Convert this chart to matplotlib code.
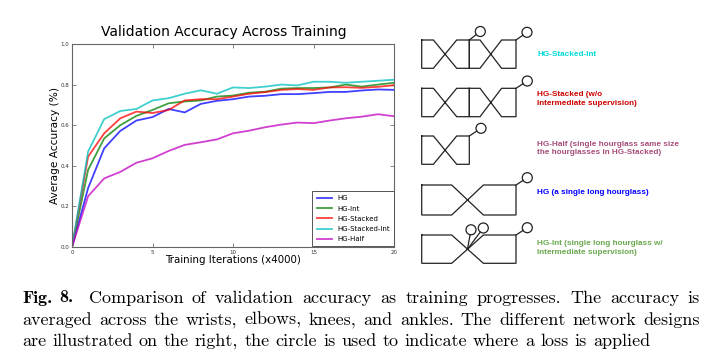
import numpy as np
import matplotlib
matplotlib.use('Agg')
import matplotlib.pyplot as plt
from matplotlib.patches import Circle

# Validation accuracy
iters = list(range(0, 21))
acc_hg = [0.0, 0.29, 0.486, 0.572, 0.623, 0.64, 0.68, 0.663, 0.705, 0.72, 0.728,
          0.741, 0.745, 0.753, 0.753, 0.758, 0.764, 0.764, 0.771, 0.776, 0.774]
acc_hg_int = [0.0, 0.38, 0.535, 0.60, 0.646, 0.675, 0.708, 0.717, 0.722, 0.741, 0.746,
              0.76, 0.765, 0.78, 0.783, 0.783, 0.786, 0.80, 0.79, 0.80, 0.809]
acc_hg_stacked = [0.0, 0.445, 0.56, 0.634, 0.667, 0.66, 0.675, 0.722, 0.728, 0.728, 0.741,
                  0.755, 0.763, 0.774, 0.778, 0.774, 0.786, 0.787, 0.784, 0.789, 0.797]
acc_hg_stacked_int = [0.0, 0.47, 0.63, 0.67, 0.68, 0.722, 0.733, 0.755, 0.772, 0.755, 0.786,
                      0.783, 0.79, 0.80, 0.796, 0.814, 0.814, 0.809, 0.814, 0.819, 0.824]
acc_hg_half = [0.0, 0.25, 0.338, 0.37, 0.415, 0.437, 0.473, 0.503, 0.516, 0.53, 0.56,
               0.573, 0.59, 0.603, 0.613, 0.61, 0.623, 0.634, 0.642, 0.654, 0.644]

series_names = ['HG', 'HG-Int', 'HG-Stacked', 'HG-Stacked-Int', 'HG-Half']
series_vals = [acc_hg, acc_hg_int, acc_hg_stacked, acc_hg_stacked_int, acc_hg_half]
series_colors = ['#0000ff', '#008000', '#ff0000', '#00bfbf', '#bf00bf']

# Diagram labels on the right
diag_labels = ['HG-Stacked-Int',
               'HG-Stacked (w/o\nIntermediate supervision)',
               'HG-Half (single hourglass same size\nthe hourglasses in HG-Stacked)',
               'HG (a single long hourglass)',
               'HG-Int (single long hourglass w/\nIntermediate supervision)']
diag_colors = ['#00d8d8', '#cc0000', '#a64d79', '#0000ff', '#6aa84f']

caption_lines = [
    'Comparison of validation accuracy as training progresses. The accuracy is',
    'averaged across the wrists, elbows, knees, and ankles. The different network designs',
    'are illustrated on the right, the circle is used to indicate where a loss is applied',
]

W, H = 716, 357
fig = plt.figure(figsize=(W / 100, H / 100), dpi=100)

# ---- line chart ----
ax = fig.add_axes([72 / W, 1 - 247 / H, (394 - 72) / W, (247 - 44) / H])
for name, vals, col in zip(series_names, series_vals, series_colors):
    ax.plot(iters, vals, color=col, lw=1.3, alpha=0.75, label=name)
ax.set_xlim(0, 20)
ax.set_ylim(0, 1)
ax.set_xticks([0, 5, 10, 15, 20])
ax.set_yticks([0.0, 0.2, 0.4, 0.6, 0.8, 1.0])
ax.set_yticklabels(['0.0', '0.2', '0.4', '0.6', '0.8', '1.0'])
ax.tick_params(direction='in', length=3, width=0.5, labelsize=4, pad=2,
               top=True, right=True, colors='#555555', labelcolor='#333333')
for sp in ax.spines.values():
    sp.set_color('#666666')
    sp.set_linewidth(0.8)
ax.set_title('Validation Accuracy Across Training', fontsize=10, pad=6, x=0.47)
ax.set_xlabel('Training Iterations (x4000)', fontsize=7.4, labelpad=0)
ax.set_ylabel('Average Accuracy (%)', fontsize=7.6, labelpad=0.5)
leg = ax.legend(loc='lower right', bbox_to_anchor=(1.003, 0.0), borderaxespad=0.1,
                fontsize=5, handlelength=2.2, labelspacing=0.6, borderpad=0.6,
                fancybox=False, framealpha=1)
leg.get_frame().set_edgecolor('#555555')
leg.get_frame().set_linewidth(0.7)

# ---- network diagrams (pixel coordinates) ----
dax = fig.add_axes([0, 0, 1, 1])
dax.set_xlim(0, W)
dax.set_ylim(H, 0)
dax.axis('off')
LC = '#222222'
LW = 0.9


def hourglass(x0, x1, top, bot, d0, d1):
    xs = [x0, x0 + d0, x0 + d1, x1, x1, x0 + d1, x0 + d0, x0, x0]
    ys = [top, top, bot, bot, top, top, bot, bot, top]
    dax.plot(xs, ys, color=LC, lw=LW, solid_joinstyle='miter')


def loss(ax0, ay0, cx, cy, r=5.0):
    v = np.array([cx - ax0, cy - ay0])
    d = np.hypot(*v)
    ex, ey = cx - v[0] / d * r, cy - v[1] / d * r
    dax.plot([ax0, ex], [ay0, ey], color=LC, lw=LW)
    dax.add_patch(Circle((cx, cy), r, fill=False, ec=LC, lw=LW))


# HG-Stacked-Int
t, b = 40, 68.3
hourglass(421.7, 469.3, t, b, 11.7, 35)
hourglass(469.3, 516, t, b, 10.7, 32.3)
loss(469.3, t, 480.3, 31.5)
loss(516, t, 527.0, 32.3)
# HG-Stacked
t, b = 88.3, 116.7
hourglass(421.7, 469.3, t, b, 11.7, 35)
hourglass(469.3, 516, t, b, 10.7, 32.3)
loss(516, t, 527.3, 81.0)
# HG-Half
t, b = 136, 164.3
hourglass(421.7, 469.3, t, b, 11.7, 35)
loss(469.3, t, 481.0, 128.3)
# HG
t, b = 185, 215
hourglass(421.7, 516, t, b, 30, 61.7)
loss(516, t, 527.3, 177.7)
# HG-Int
t, b = 235, 263.3
hourglass(421.7, 516, t, b, 30, 61.7)
loss(516, t, 527.3, 227.7)
cx_mid = 421.7 + 45.8
cy_mid = (t + b) / 2
loss(cx_mid, cy_mid, 471.0, 229.8)
loss(cx_mid, cy_mid, 483.3, 228.0)

label_y = [54, 99, 148.5, 193, 248]
for txt, col, yy in zip(diag_labels, diag_colors, label_y):
    dax.text(537, yy, txt, color=col, fontsize=5.9, fontweight='bold',
             family='Liberation Sans', va='center', ha='left', linespacing=1.4)

# ---- caption, justified like LaTeX ----
fig.canvas.draw()
rend = fig.canvas.get_renderer()
CAP_FS = 13
X0, X1 = 22, 700
line_y = [298, 320, 341]


def place_words(tokens, y, justify):
    # tokens: list of (text, family, extra_gap_after)
    arts = []
    for s, fam, _ in tokens:
        arts.append(dax.text(0, y, s, fontsize=CAP_FS, family=fam, va='center',
                             ha='left', color='black'))
    widths = [a.get_window_extent(rend).width for a in arts]
    extra = sum(tk[2] for tk in tokens)
    n = len(tokens)
    if justify:
        gap = (X1 - X0 - sum(widths) - extra) / (n - 1)
    else:
        gap = CAP_FS * 100 / 72 * 0.333
    x = X0
    for a, w, tk in zip(arts, widths, tokens):
        a.set_x(x)
        x += w + gap + tk[2]


first = [('Fig.', 'cmb10', -2), ('8.', 'cmb10', 7)]
first += [(w, 'cmr10', 0) for w in caption_lines[0].split()]
place_words(first, line_y[0], True)
place_words([(w, 'cmr10', 0) for w in caption_lines[1].split()], line_y[1], True)
place_words([(w, 'cmr10', 0) for w in caption_lines[2].split()], line_y[2], False)

fig.savefig('out.png', dpi=100)
